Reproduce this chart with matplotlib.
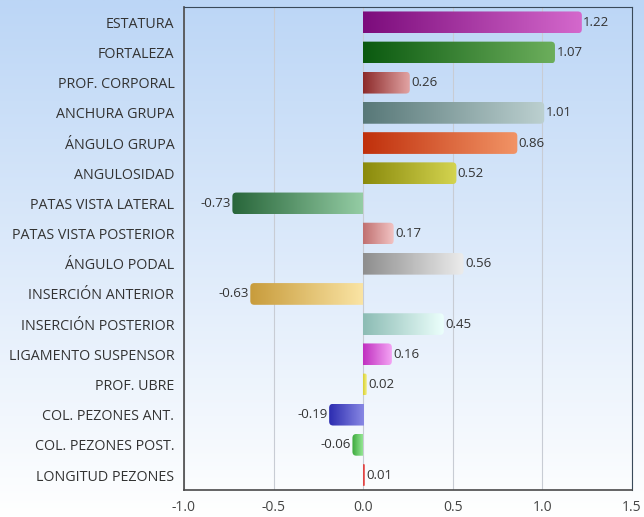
import numpy as np
import matplotlib
matplotlib.use("Agg")
from matplotlib import pyplot as plt
from matplotlib.patches import FancyBboxPatch
from matplotlib.colors import LinearSegmentedColormap

plt.rcParams['font.family'] = ['Open Sans', 'DejaVu Sans']

traits = ["ESTATURA", "FORTALEZA", "PROF. CORPORAL", "ANCHURA GRUPA",
          "ÁNGULO GRUPA", "ANGULOSIDAD", "PATAS VISTA LATERAL",
          "PATAS VISTA POSTERIOR", "ÁNGULO PODAL", "INSERCIÓN ANTERIOR",
          "INSERCIÓN POSTERIOR", "LIGAMENTO SUSPENSOR", "PROF. UBRE",
          "COL. PEZONES ANT.", "COL. PEZONES POST.", "LONGITUD PEZONES"]
values = [1.22, 1.07, 0.26, 1.01, 0.86, 0.52, -0.73, 0.17, 0.56, -0.63,
          0.45, 0.16, 0.02, -0.19, -0.06, 0.01]
# gradient colours (dark end, light end) for each bar
dark = ["#7c0c7c", "#0b5a10", "#8c2a2a", "#587878", "#c0300c", "#8a8a0c",
        "#28663a", "#c07070", "#8e8e8e", "#c89c3c", "#8cbcb4", "#c030c0",
        "#d8d030", "#2c2cb0", "#3aa83a", "#d83030"]
light = ["#d468cc", "#6cae5c", "#e2a4a4", "#bcd0d0", "#f29466", "#d4d450",
         "#94cca4", "#f2c4c4", "#ececec", "#fae4a4", "#ecfffc", "#f4a4f4",
         "#f4f08c", "#8888e4", "#94e694", "#f08080"]
xticks = [-1.0, -0.5, 0.0, 0.5, 1.0, 1.5]

fig = plt.figure(figsize=(6.44, 5.17), dpi=100)

# background gradient
bg = fig.add_axes([0, 0, 1, 1], zorder=-1)
grad = np.linspace(0, 1, 256).reshape(-1, 1)
bg_cmap = LinearSegmentedColormap.from_list("bg", ["#bcd6f6", "#ffffff"])
bg.imshow(grad, aspect="auto", cmap=bg_cmap, extent=[0, 1, 0, 1], origin="upper")
bg.axis("off")

ax = fig.add_axes([0.2857, 0.052, 0.6957, 0.934])
ax.patch.set_alpha(0)

ypos = np.arange(len(traits))
bars = ax.barh(ypos, values, height=0.72, color="none")
ax.set_xlim(-1.0, 1.5)
ax.set_ylim(len(traits) - 0.5, -0.5)

# aspect between x and y data units in pixels, for round corners
px_x = 0.6957 * 644 / 2.5
px_y = 0.934 * 517 / len(traits)
r = 4.0 / px_x

for i, b in enumerate(bars):
    x0, y0 = b.get_x(), b.get_y()
    w, h = b.get_width(), b.get_height()
    left, right = min(x0, x0 + w), max(x0, x0 + w)
    rr = min(r, (right - left) * 0.5 + 1e-4)
    if values[i] >= 0:
        clip = FancyBboxPatch((left - rr, y0), (right - left) + rr, h,
                              boxstyle=f"round,pad=0,rounding_size={rr}",
                              mutation_aspect=px_x / px_y,
                              transform=ax.transData, facecolor="none", edgecolor="none")
    else:
        clip = FancyBboxPatch((left, y0), (right - left) + rr, h,
                              boxstyle=f"round,pad=0,rounding_size={rr}",
                              mutation_aspect=px_x / px_y,
                              transform=ax.transData, facecolor="none", edgecolor="none")
    ax.add_patch(clip)
    cmap = LinearSegmentedColormap.from_list(f"c{i}", [dark[i], light[i]])
    g = np.linspace(0, 1, 128).reshape(1, -1)
    im = ax.imshow(g, aspect="auto", cmap=cmap, extent=[left, right, y0 + h, y0],
                   zorder=2, interpolation="bilinear")
    im.set_clip_path(clip)
    if values[i] >= 0:
        ax.text(right + 0.008, ypos[i], f"{values[i]:.2f}", va="center", ha="left",
                fontsize=9.5, color="#333333", zorder=3)
    else:
        ax.text(left - 0.008, ypos[i], f"{values[i]:.2f}", va="center", ha="right",
                fontsize=9.5, color="#333333", zorder=3)

ax.set_xlim(-1.0, 1.5)
ax.set_ylim(len(traits) - 0.5, -0.5)
ax.set_xticks(xticks)
ax.set_xticklabels([f"{t:.1f}" for t in xticks])
ax.set_yticks(ypos)
ax.set_yticklabels(traits)
ax.tick_params(axis="y", length=0, pad=7, labelsize=10.3, labelcolor="#333333")
ax.tick_params(axis="x", length=0, pad=7, labelsize=10, labelcolor="#444444")
ax.grid(axis="x", color="#c8ccd4", linewidth=0.8)
ax.set_axisbelow(True)
for s in ["left", "bottom"]:
    ax.spines[s].set_color("#4a4a4a")
    ax.spines[s].set_linewidth(1.2)
for s in ["top", "right"]:
    ax.spines[s].set_color("#3a4a5a")
    ax.spines[s].set_linewidth(0.8)

fig.savefig("out.png", dpi=100)
